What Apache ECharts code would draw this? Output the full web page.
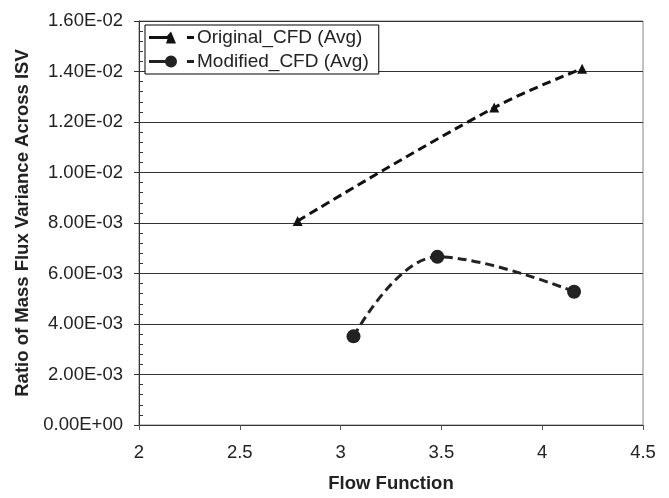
<!DOCTYPE html>
<html lang="en">
<head>
<meta charset="UTF-8">
<title>Mass Flux Variance</title>
<style>
    * { margin: 0; padding: 0; }
    #chart { width: 669px; height: 498px; background: #fff; }
</style>
<script src="https://cdn.jsdelivr.net/npm/echarts@6/dist/echarts.min.js"></script>
</head>
<body>
<div id="chart"></div>
<script>
// 数据
var origX = [2.787, 3.762, 4.198];
var origY = [0.00808, 0.01257, 0.01411];
var modX = [3.064, 3.48, 4.158];
var modY = [0.00351, 0.00666, 0.00528];
var xTicks = [2, 2.5, 3, 3.5, 4, 4.5];
var yTicks = [0, 0.002, 0.004, 0.006, 0.008, 0.010, 0.012, 0.014, 0.016];

var font = 'Liberation Sans, Arial, sans-serif';

function sci(v) { // 1.60E-02 格式
    var s = v.toExponential(2).toUpperCase();
    var p = s.split('E');
    var e = parseInt(p[1], 10);
    var sign = e < 0 ? '-' : '+';
    e = Math.abs(e);
    return p[0] + 'E' + sign + (e < 10 ? '0' + e : e);
}

function pairs(xs, ys) {
    return xs.map(function (x, i) { return [x, ys[i]]; });
}

// 图例图标: 实线 + 标记 + 短划
var triIcon = 'path://M0,5.5 L18,5.5 L22,1 L27,13 L17,13 L18.5,8.5 L0,8.5 Z M38,5.5 L45,5.5 L45,8.5 L38,8.5 Z';
var dotIcon = 'path://M0,5.5 L16.5,5.5 L16.5,8.5 L0,8.5 Z M38,5.5 L45,5.5 L45,8.5 L38,8.5 Z M16,7 A6,6 0 1,1 28,7 A6,6 0 1,1 16,7 Z';

var chart = echarts.init(document.getElementById('chart'));
var yMin = yTicks[0], yMax = yTicks[yTicks.length - 1];
var yStep = yTicks[1] - yTicks[0];

var option = {
    animation: false,
    grid: {
        left: 139, right: 26, top: 21, bottom: 71,
        show: true, borderColor: '#888', borderWidth: 1
    },
    legend: {
        orient: 'vertical',
        left: 145, top: 25,
        backgroundColor: '#fff',
        borderColor: '#000', borderWidth: 1, borderRadius: 0,
        padding: [3, 10, 3, 4],
        itemGap: 5,
        itemWidth: 45, itemHeight: 13,
        textStyle: { fontFamily: font, fontSize: 19, color: '#222', padding: [0, 0, 0, -2] },
        data: [
            { name: 'Original_CFD (Avg)', icon: triIcon },
            { name: 'Modified_CFD (Avg)', icon: dotIcon }
        ]
    },
    xAxis: {
        type: 'value',
        min: xTicks[0], max: xTicks[xTicks.length - 1], interval: 0.5,
        name: 'Flow Function',
        nameLocation: 'middle', nameGap: 49,
        nameTextStyle: { fontFamily: font, fontSize: 18.5, fontWeight: 'bold', color: '#222' },
        axisLine: { lineStyle: { color: '#333', width: 1 } },
        axisTick: { show: true, length: 5, lineStyle: { color: '#555' } },
        axisLabel: { fontFamily: font, fontSize: 18.5, color: '#222', margin: 18 },
        splitLine: { show: false }
    },
    yAxis: [{
        type: 'value',
        min: yMin, max: yMax, interval: yStep,
        name: 'Ratio of Mass Flux Variance Across ISV',
        nameLocation: 'middle', nameGap: 107,
        nameTextStyle: { fontFamily: font, fontSize: 18.5, fontWeight: 'bold', color: '#222' },
        axisLine: { show: true, lineStyle: { color: '#333', width: 1 } },
        axisTick: { show: true, length: 5, lineStyle: { color: '#333' } },
        axisLabel: { fontFamily: font, fontSize: 18.5, color: '#222', margin: 16, formatter: sci },
        splitLine: { show: true, lineStyle: { color: '#333', width: 1 } }
    }, {
        // 内侧次刻度
        type: 'value',
        position: 'left',
        min: yMin, max: yMax, interval: yStep,
        axisLine: { show: false },
        axisTick: { show: false, inside: true },
        minorTick: { show: true, splitNumber: 5, length: 4, lineStyle: { color: '#333' } },
        axisLabel: { show: false },
        splitLine: { show: false }
    }],
    series: [{
        name: 'Original_CFD (Avg)',
        type: 'line',
        smooth: 0.4,
        data: pairs(origX, origY),
        symbol: 'triangle', symbolSize: 10,
        itemStyle: { color: '#111' },
        lineStyle: { color: '#111', width: 3, type: [9, 5] }
    }, {
        name: 'Modified_CFD (Avg)',
        type: 'line',
        smooth: 0.4,
        data: pairs(modX, modY),
        symbol: 'circle', symbolSize: 14,
        itemStyle: { color: '#222' },
        lineStyle: { color: '#222', width: 3, type: [9, 5] }
    }]
};
chart.setOption(option);
</script>
</body>
</html>
